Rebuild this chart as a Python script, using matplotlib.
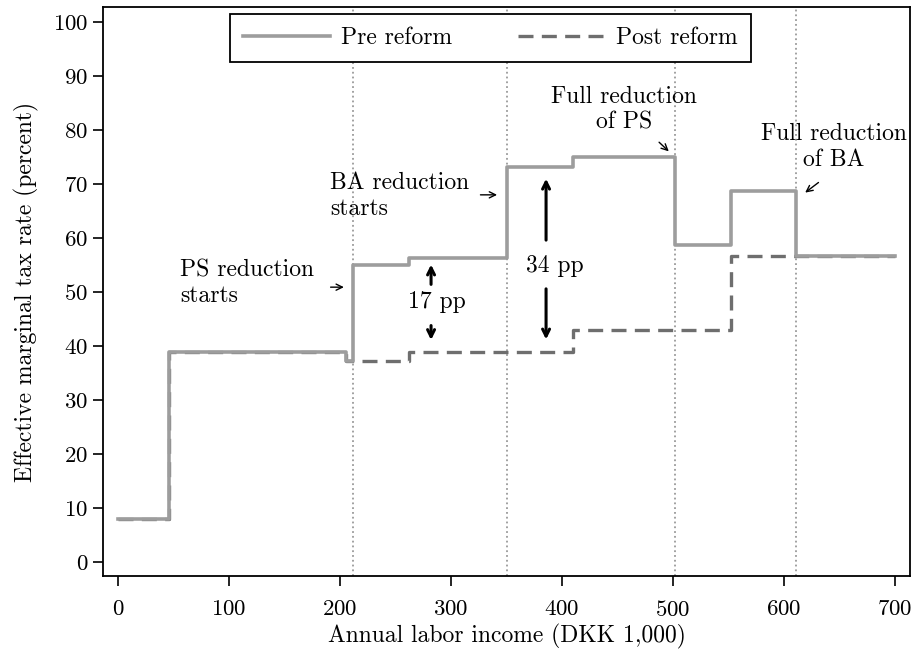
import matplotlib
matplotlib.use("Agg")
import matplotlib.pyplot as plt

plt.rcParams['font.family'] = 'serif'
plt.rcParams['font.serif'] = ['cmr10', 'DejaVu Serif']
plt.rcParams['mathtext.fontset'] = 'cm'
plt.rcParams['axes.formatter.use_mathtext'] = True

# Step breakpoints (DKK 1,000) and marginal tax rates (percent)
pre_x = [0, 46, 205, 212, 262, 350, 410, 502, 552, 611, 700]
pre_y = [8, 38.9, 37.2, 55, 56.3, 73.1, 75, 58.7, 68.7, 56.7, 56.7]
post_x = [0, 46, 205, 262, 410, 552, 700]
post_y = [8, 38.9, 37.2, 38.9, 43, 56.7, 56.7]

# Reform thresholds
thresholds = [212, 350, 502, 611]

xticks = list(range(0, 701, 100))
yticks = list(range(0, 101, 10))

fig = plt.figure(figsize=(9.15, 6.52), dpi=100)
ax = fig.add_axes([0.1126, 0.1166, 0.882, 0.8727])

for t in thresholds:
    ax.axvline(t, color='#9a9a9a', linestyle=':', lw=1.3, zorder=1)

ax.step(pre_x, pre_y, where='post', color='#9d9d9d', lw=2.6,
        label='Pre reform', zorder=3)
ax.step(post_x, post_y, where='post', color='#6e6e6e', lw=2.4,
        linestyle=(0, (4.5, 2.5)), label='Post reform', zorder=2)

ax.set_xlim(-13.5, 713.5)
ax.set_ylim(-2.6, 102.8)
ax.set_xticks(xticks)
ax.set_yticks(yticks)
ax.tick_params(axis='both', length=7, width=1.2, labelsize=16.5, direction='out')
ax.tick_params(axis='x', pad=10)
for s in ax.spines.values():
    s.set_linewidth(1.3)

ax.set_xlabel('Annual labor income (DKK 1,000)', fontsize=17, labelpad=3)
ax.set_ylabel('Effective marginal tax rate (percent)', fontsize=17, labelpad=10)

fs = 17
arr = dict(arrowstyle='->,head_length=0.45,head_width=0.22', lw=1.0, color='black')
ax.text(56, 51.7, 'PS reduction\nstarts', fontsize=fs, ha='left', va='center')
ax.annotate('', xy=(206, 50.9), xytext=(189, 50.9), arrowprops=arr)
ax.text(191, 67.8, 'BA reduction\nstarts', fontsize=fs, ha='left', va='center')
ax.annotate('', xy=(344, 68), xytext=(324, 68), arrowprops=arr)
ax.text(456, 83.7, 'Full reduction\nof PS', fontsize=fs, ha='center', va='center',
        multialignment='center')
ax.annotate('', xy=(498, 75.7), xytext=(485.6, 78.1), arrowprops=arr)
ax.text(645, 76.9, 'Full reduction\nof BA', fontsize=fs, ha='center', va='center',
        multialignment='center')
ax.annotate('', xy=(617, 68.1), xytext=(633, 70.6), arrowprops=arr)

bold = dict(arrowstyle='->,head_length=0.5,head_width=0.25', lw=2.2, color='black')
ax.text(287.4, 48.1, '17 pp', fontsize=fs, ha='center', va='center')
ax.annotate('', xy=(282, 55.6), xytext=(282, 50.9), arrowprops=bold)
ax.annotate('', xy=(282, 40.6), xytext=(282, 44.3), arrowprops=bold)
ax.text(393.7, 54.8, '34 pp', fontsize=fs, ha='center', va='center')
ax.annotate('', xy=(385.6, 71.5), xytext=(385.6, 59.1), arrowprops=bold)
ax.annotate('', xy=(385.6, 40.7), xytext=(385.6, 51.1), arrowprops=bold)

leg = ax.legend(loc='upper center', bbox_to_anchor=(0.48, 0.988), ncol=2,
                fontsize=17, fancybox=False, framealpha=1, edgecolor='black',
                handlelength=3.7, handletextpad=0.45, columnspacing=2.8,
                borderpad=0.55, borderaxespad=0)
leg.get_frame().set_linewidth(1.3)
leg.set_zorder(5)

fig.savefig('out.png', dpi=100)
